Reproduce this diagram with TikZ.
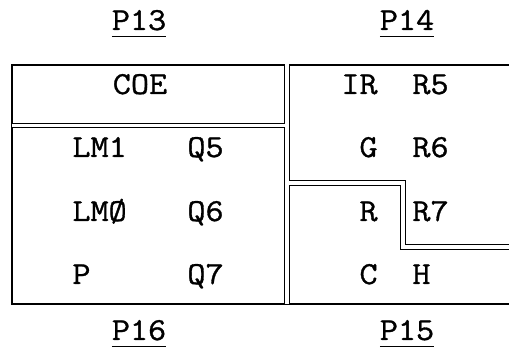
\documentclass[tikz,border=0pt]{standalone}
\usepackage{fontspec}
\setmonofont{Latin Modern Mono}[FakeStretch=1.1,FakeBold=1]
\usepackage{tikz}
\usetikzlibrary{positioning,calc}
\newcommand{\padname}[1]{\setbox0\hbox{#1}\rlap{\raisebox{-3.6pt}{\rule{\wd0}{0.6pt}}}\box0}
\tikzset{
  cell/.style={font=\ttfamily\fontsize{16}{18}\selectfont,inner sep=0pt,text=black},
  padlabel/.style={cell},
  frame/.style={line width=0.75pt,draw=black},
  splitline/.style={line width=0.6pt,draw=black,double=white,double distance=1.7pt}
}
\begin{document}
\begin{tikzpicture}[x=0.5pt,y=-0.5pt]
  \useasboundingbox (0,0) rectangle (509,356);

  % outer frame, open on the right
  \coordinate (tl) at (12,65);
  \coordinate (tr) at (509,65);
  \coordinate (bl) at (12,304);
  \coordinate (br) at (509,304);
  \draw[frame] (tr) -- (tl) -- (bl) -- (br);

  % double dividers
  \coordinate (midtop) at (287,64);
  \coordinate (midbot) at (287,304);
  \coordinate (coel) at (12,125.5);
  \coordinate (coer) at (285,125.5);
  \coordinate (stepa) at (289,183);
  \coordinate (stepb) at (403,247);
  \coordinate (stepc) at (509,247);

  \draw[splitline] (midtop) -- (midbot);
  \draw[splitline] (coel) -- (coer);
  \draw[splitline] (stepa) -| (stepb) -- (stepc);

  % pad names
  \foreach \n/\lab/\x/\y in {p13/P13/139/30,p14/P14/407/30,p16/P16/139/340,p15/P15/407/340}{
    \node[padlabel,anchor=base] (\n) at (\x,\y) {\padname{\lab}};
  }

  % left panel
  \node[cell,anchor=base] (coe) at (140,94) {COE};
  \foreach \n/\lab/\y in {lma/LM1/157,lmb/LMØ/221,pp/P/284}{
    \node[cell,anchor=base west] (\n) at (72,\y) {\lab};
  }
  \foreach \n/\lab/\y in {qa/Q5/157,qb/Q6/221,qc/Q7/284}{
    \node[cell,anchor=base west] (\n) at (187,\y) {\lab};
  }

  % right panel
  \foreach \n/\lab/\y in {ir/IR/94,gg/G/157,rr/R/221,cc/C/284}{
    \node[cell,anchor=base east] (\n) at (378,\y) {\lab};
  }
  \foreach \n/\lab/\y in {ra/R5/94,rb/R6/157,rc/R7/221,hh/H/284}{
    \node[cell,anchor=base west] (\n) at (412,\y) {\lab};
  }
\end{tikzpicture}
\end{document}
